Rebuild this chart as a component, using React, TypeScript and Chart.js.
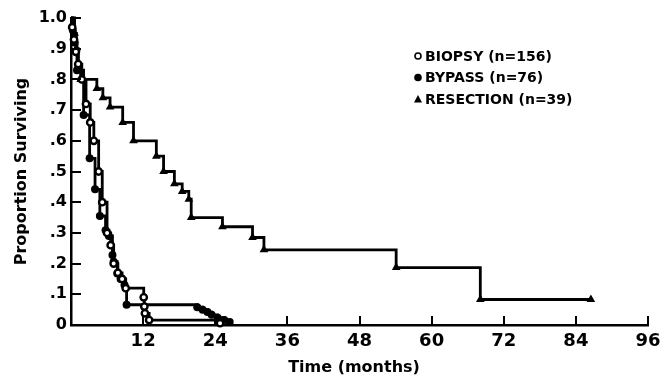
import React, { useEffect, useRef } from 'react';
import { Chart, registerables } from 'chart.js';

Chart.register(...registerables);

const FONT = '"DejaVu Sans", "Liberation Sans", sans-serif';

// Kaplan-Meier step points (months, proportion surviving)
const biopsyMonths = [0, 0.2, 0.5, 0.8, 1.2, 1.8, 2.5, 3.2, 3.8, 4.6, 5.2, 6.0, 6.6, 7.1, 7.8, 8.5, 9.1, 12.1, 12.2, 12.3, 13.0, 24.8];
const biopsySurvival = [1.0, 0.97, 0.93, 0.89, 0.85, 0.8, 0.72, 0.66, 0.6, 0.5, 0.4, 0.3, 0.26, 0.2, 0.17, 0.15, 0.12, 0.09, 0.06, 0.038, 0.016, 0.006];

const bypassMonths = [0, 0.3, 0.6, 1.0, 2.1, 3.1, 4.0, 4.8, 5.75, 6.3, 6.9, 7.1, 7.7, 8.25, 8.9, 9.25, 21.0, 21.9, 22.7, 23.4, 24.4, 25.5, 26.4];
const bypassSurvival = [1.0, 0.96, 0.92, 0.83, 0.684, 0.543, 0.442, 0.355, 0.309, 0.29, 0.228, 0.206, 0.168, 0.15, 0.13, 0.066, 0.058, 0.05, 0.042, 0.033, 0.024, 0.016, 0.01];

const resectionMonths = [0, 0.6, 0.9, 1.2, 1.6, 4.3, 5.3, 6.5, 8.6, 10.4, 14.2, 15.4, 17.2, 18.5, 19.6, 20.0, 25.2, 30.2, 32.1, 54.1, 68.1, 86.5];
const resectionSurvival = [1.0, 0.95, 0.9, 0.85, 0.8, 0.77, 0.74, 0.71, 0.66, 0.6, 0.55, 0.5, 0.46, 0.435, 0.41, 0.35, 0.32, 0.285, 0.245, 0.187, 0.083, 0.083];

const seriesLabels = ['BIOPSY (n=156)', 'BYPASS (n=76)', 'RESECTION (n=39)'];
const xTickValues = [12, 24, 36, 48, 60, 72, 84, 96];
const yTickValues = [0.1, 0.2, 0.3, 0.4, 0.5, 0.6, 0.7, 0.8, 0.9, 1.0];
const xTitle = 'Time (months)';
const yTitle = 'Proportion Surviving';

const toPoints = (xs: number[], ys: number[]) => xs.map((x, i) => ({ x, y: ys[i] }));

const innerTicks = {
  id: 'innerTicks',
  afterDraw(chart: any) {
    const { ctx, chartArea, scales } = chart;
    ctx.save();
    ctx.strokeStyle = '#000';
    ctx.lineWidth = 2;
    ctx.beginPath();
    yTickValues.forEach((v) => {
      const y = Math.round(scales.y.getPixelForValue(v));
      ctx.moveTo(chartArea.left, y);
      ctx.lineTo(chartArea.left + 10, y);
    });
    xTickValues.forEach((t) => {
      const x = Math.round(scales.x.getPixelForValue(t));
      ctx.moveTo(x, chartArea.bottom);
      ctx.lineTo(x, chartArea.bottom - 9);
    });
    ctx.stroke();

    // axis titles
    ctx.fillStyle = '#000';
    ctx.font = `bold 16px ${FONT}`;
    ctx.textAlign = 'center';
    ctx.textBaseline = 'middle';
    ctx.fillText(xTitle, 354, 368);
    ctx.save();
    ctx.translate(22, (chartArea.top + chartArea.bottom) / 2);
    ctx.rotate(-Math.PI / 2);
    ctx.fillText(yTitle, 0, 0);
    ctx.restore();

    // legend
    const rowY = [56, 77.5, 99];
    const mx = 418;
    ctx.font = `bold 14px ${FONT}`;
    ctx.textAlign = 'left';
    chart.data.datasets.forEach((ds: any, i: number) => {
      const y = rowY[i];
      ctx.beginPath();
      if (i === 0) {
        ctx.lineWidth = 1.6;
        ctx.fillStyle = '#fff';
        ctx.arc(mx, y, 3, 0, Math.PI * 2);
        ctx.fill();
        ctx.stroke();
      } else if (i === 1) {
        ctx.fillStyle = '#000';
        ctx.arc(mx, y, 3.8, 0, Math.PI * 2);
        ctx.fill();
      } else {
        ctx.fillStyle = '#000';
        ctx.moveTo(mx, y - 4);
        ctx.lineTo(mx + 4, y + 3.5);
        ctx.lineTo(mx - 4, y + 3.5);
        ctx.closePath();
        ctx.fill();
      }
      ctx.fillStyle = '#000';
      ctx.fillText(ds.label, mx + 7, y + 1);
    });
    ctx.restore();
  },
};

export default function App() {
  const ref = useRef<HTMLCanvasElement>(null);

  useEffect(() => {
    if (!ref.current) return;
    const pr = (r: number) => (c: any) => (c.dataIndex === 0 ? 0 : r);
    const chart = new Chart(ref.current, {
      type: 'line',
      data: {
        datasets: [
          {
            label: seriesLabels[0],
            data: toPoints(biopsyMonths, biopsySurvival),
            stepped: true,
            borderColor: '#000',
            borderWidth: 2.8,
            pointStyle: 'circle',
            pointRadius: pr(3.2),
            pointBackgroundColor: '#fff',
            pointBorderColor: '#000',
            pointBorderWidth: 2.4,
            clip: false,
          },
          {
            label: seriesLabels[1],
            data: toPoints(bypassMonths, bypassSurvival),
            stepped: true,
            borderColor: '#000',
            borderWidth: 2.8,
            pointStyle: 'circle',
            pointRadius: pr(4),
            pointBackgroundColor: '#000',
            pointBorderColor: '#000',
            pointBorderWidth: 0,
            clip: false,
          },
          {
            label: seriesLabels[2],
            data: toPoints(resectionMonths, resectionSurvival),
            stepped: true,
            borderColor: '#000',
            borderWidth: 2.8,
            pointStyle: 'triangle',
            pointRadius: pr(5),
            pointBackgroundColor: '#000',
            pointBorderColor: '#000',
            pointBorderWidth: 0,
            clip: false,
          },
        ],
      },
      options: {
        animation: false,
        responsive: false,
        maintainAspectRatio: false,
        layout: { padding: { top: 18, right: 24, left: 0, bottom: 0 } },
        plugins: { legend: { display: false }, tooltip: { enabled: false } },
        scales: {
          x: {
            type: 'linear',
            min: 0,
            max: 96,
            grid: { display: false, drawTicks: false },
            border: { display: true, color: '#000', width: 2.5 },
            ticks: {
              stepSize: 12,
              autoSkip: false,
              maxRotation: 0,
              padding: 6,
              color: '#000',
              font: { family: FONT, size: 18, weight: 'bold' },
              callback: (v: any) => (v === 0 ? '' : String(v)),
            },
            afterFit: (s: any) => {
              s.height = 60;
            },
          },
          y: {
            type: 'linear',
            min: 0,
            max: 1,
            grid: { display: false, drawTicks: false },
            border: { display: true, color: '#000', width: 2.5 },
            ticks: {
              stepSize: 0.1,
              autoSkip: false,
              padding: 4,
              color: '#000',
              font: { family: FONT, size: 16, weight: 'bold' },
              callback: (v: any) => {
                const n = Math.round(Number(v) * 10);
                if (n === 0) return '0';
                if (n === 10) return '1.0';
                return '.' + n;
              },
            },
            afterFit: (s: any) => {
              s.width = 71;
            },
          },
        },
      },
      plugins: [innerTicks],
    } as any);
    return () => chart.destroy();
  }, []);

  return (
    <div style={{ position: 'fixed', left: 0, top: 0, width: 672, height: 385, background: '#fff' }}>
      <canvas ref={ref} width={672} height={385} style={{ display: 'block' }} />
    </div>
  );
}
